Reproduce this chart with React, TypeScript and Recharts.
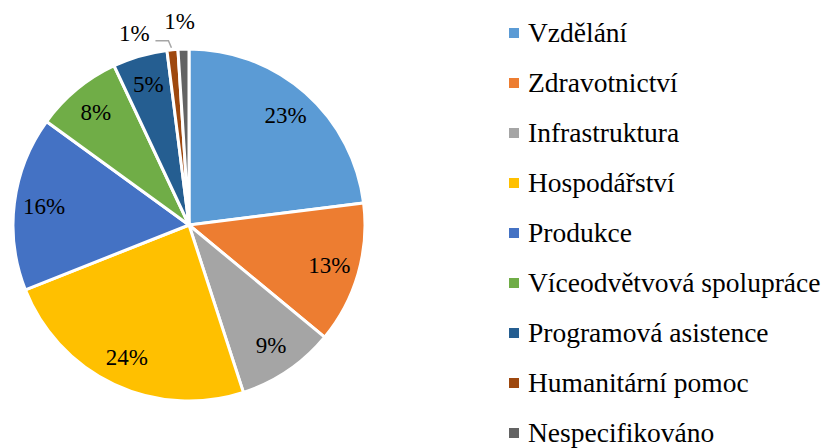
import React from "react";
import { PieChart, Pie, Cell, Legend } from "recharts";

const categories = [
  "Vzdělání",
  "Zdravotnictví",
  "Infrastruktura",
  "Hospodářství",
  "Produkce",
  "Víceodvětvová spolupráce",
  "Programová asistence",
  "Humanitární pomoc",
  "Nespecifikováno",
];
const shares = [23, 13, 9, 24, 16, 8, 5, 1, 1];
const colors = [
  "#5B9BD5",
  "#ED7D31",
  "#A5A5A5",
  "#FFC000",
  "#4472C4",
  "#70AD47",
  "#255E91",
  "#9E480E",
  "#636363",
];

const data = categories.map((name, i) => ({ name, value: shares[i] }));

const FONT = '"Liberation Serif", "Times New Roman", serif';
const RAD = Math.PI / 180;

const renderLabel = (props: any) => {
  const { cx, cy, midAngle, outerRadius, index, value } = props;
  const text = `${value}%`;
  if (index < 7) {
    const r = outerRadius * 0.83;
    const x = cx + r * Math.cos(-midAngle * RAD);
    const y = cy + r * Math.sin(-midAngle * RAD);
    return (
      <text x={x} y={y} textAnchor="middle" dominantBaseline="central" fontFamily={FONT} fontSize={23} fill="#000">
        {text}
      </text>
    );
  }
  const ex = cx + outerRadius * Math.cos(-midAngle * RAD);
  const ey = cy + outerRadius * Math.sin(-midAngle * RAD);
  if (index === 7) {
    const lx = ex - 38;
    const ly = ey - 16;
    return (
      <g>
        <polyline
          points={`${ex - 17},${ey - 9} ${ex - 4},${ey - 9} ${ex - 1},${ey - 2}`}
          fill="none"
          stroke="#A6A6A6"
          strokeWidth={1.5}
        />
        <text x={lx} y={ly} textAnchor="middle" dominantBaseline="central" fontFamily={FONT} fontSize={23} fill="#000">
          {text}
        </text>
      </g>
    );
  }
  return (
    <text x={ex - 4} y={ey - 28} textAnchor="middle" dominantBaseline="central" fontFamily={FONT} fontSize={23} fill="#000">
      {text}
    </text>
  );
};

const renderLegend = () => (
  <div style={{ fontFamily: FONT, fontSize: 27.5, color: "#000" }}>
    {categories.map((c, i) => (
      <div key={c} style={{ height: 50, display: "flex", alignItems: "center", whiteSpace: "nowrap" }}>
        <span style={{ display: "inline-block", width: 10, height: 10, background: colors[i], marginRight: 9 }} />
        <span style={{ lineHeight: "30px" }}>{c}</span>
      </div>
    ))}
  </div>
);

export default function App() {
  return (
    <div style={{ position: "absolute", left: 0, top: 0, background: "#fff" }}>
      <PieChart width={826} height={448} margin={{ top: 0, right: 0, bottom: 0, left: 0 }}>
        <Pie
          data={data}
          dataKey="value"
          nameKey="name"
          cx={189}
          cy={225}
          outerRadius={176}
          startAngle={90}
          endAngle={-270}
          stroke="#fff"
          strokeWidth={3}
          label={renderLabel}
          labelLine={false}
          isAnimationActive={false}
        >
          {data.map((d, i) => (
            <Cell key={d.name} fill={colors[i]} />
          ))}
        </Pie>
        <Legend
          content={renderLegend}
          layout="vertical"
          align="right"
          verticalAlign="top"
          wrapperStyle={{ left: 509, top: 8, width: 317 }}
        />
      </PieChart>
    </div>
  );
}
